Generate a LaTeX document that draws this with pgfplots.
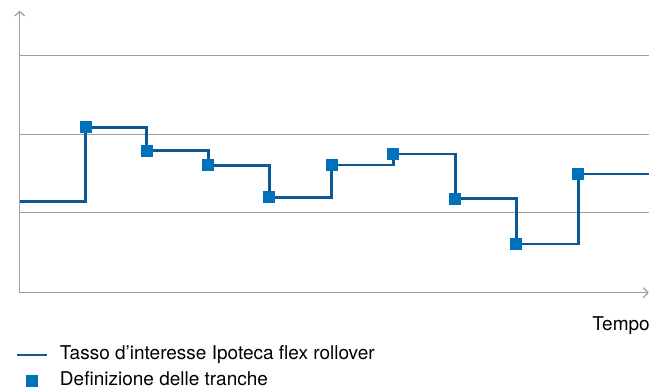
\documentclass[border=0pt]{standalone}
\usepackage{pgfplots}
\pgfplotsset{compat=1.18}
\usepackage{fontspec}
\setmainfont{TeX Gyre Heros}
\usetikzlibrary{arrows.meta}
\definecolor{linec}{RGB}{12,88,150}
\definecolor{markc}{RGB}{0,114,188}
\definecolor{gridc}{RGB}{158,158,163}
\newcommand{\chartfont}{\fontsize{19bp}{23bp}\selectfont}
\pgfplotsset{
  steplegend/.style={legend image code/.code={\draw[##1] (0bp,0bp) -- (29.7bp,0bp);}},
  marklegend/.style={legend image code/.code={\draw[##1] plot coordinates {(14.85bp,0bp)};}},
}
\begin{document}
\begin{tikzpicture}
\begin{axis}[
  scale only axis,
  width=629bp, height=282bp,
  xmin=0, xmax=629, ymin=0, ymax=282,
  axis lines=left,
  axis line style={gridc, line width=1.2bp, -{Straight Barb[length=4.5bp, width=10bp, line width=1.2bp]}},
  xtick=\empty,
  ytick={80.5,158.4,237}, yticklabels={},
  major tick length=0pt,
  ymajorgrids,
  grid style={gridc, line width=1.2bp},
  clip=false,
  xlabel={Tempo},
  xlabel style={at={(1,0)}, anchor=base east, inner sep=0pt, xshift=1.3bp, yshift=-37.3bp, font=\chartfont},
  legend style={at={(0,0)}, anchor=north west, xshift=-3.7bp, yshift=-53bp,
    draw=none, fill=none, inner sep=0pt, outer sep=0pt, font=\chartfont,
    row sep=7.5bp,
    nodes={inner sep=0pt, text height=14bp, text depth=4.5bp},
    /tikz/every odd column/.append style={column sep=11.6bp}},
  legend cell align=left,
]
\addplot[const plot, linec, line width=2.7bp, steplegend]
  coordinates {(0,91.4) (66,165.4) (127,142) (188.6,127.4) (249.6,95.4) (312,127.7) (373.6,138.7) (435.6,94) (496.6,48.7) (558.6,118.7) (629.6,118.7)};
\addlegendentry{Tasso d’interesse Ipoteca flex rollover}
\addplot[only marks, mark=square*, mark size=5.6bp, mark options={fill=markc, draw=markc, line width=0pt}, marklegend]
  coordinates {(66,165.4) (127,142) (188.6,127.4) (249.6,95.4) (312,127.7) (373.6,138.7) (435.6,94) (496.6,48.7) (558.6,118.7)};
\addlegendentry{Definizione delle tranche}
\end{axis}
\pgfresetboundingbox
\path (current axis.south west) ++(-19.7bp,-97.3bp) rectangle ++(664bp,390bp);
\end{tikzpicture}
\end{document}
